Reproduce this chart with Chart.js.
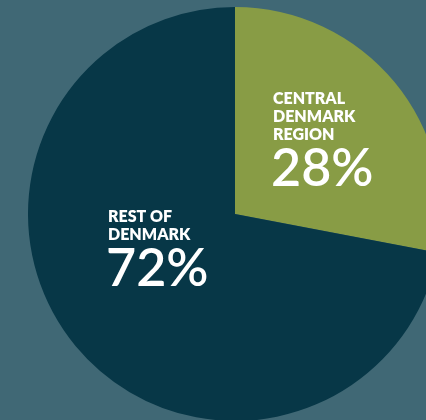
<!DOCTYPE html>
<html>
<head>
<meta charset="utf-8">
<script src="https://cdn.jsdelivr.net/npm/chart.js@4"></script>
<style>
  html, body { margin: 0; padding: 0; width: 426px; height: 420px; overflow: hidden; background: #406875; }
  #wrap { position: absolute; left: 28px; top: 7px; width: 414px; height: 414px; }
</style>
</head>
<body>
<div id="wrap"><canvas id="pie"></canvas></div>
<script>
// Share of total
const regions = ['CENTRAL DENMARK REGION', 'REST OF DENMARK'];
const shares = [28, 72];
const sliceColors = ['#889c45', '#073747'];

// Text label layout (offsets from the pie centre)
const labelLines = [['CENTRAL', 'DENMARK', 'REGION'], ['REST OF', 'DENMARK']];
const labelOffsets = [{ x: 38, y: -110 }, { x: -127, y: 8 }];

const sliceLabels = {
  id: 'sliceLabels',
  afterDraw(chart) {
    const ctx = chart.ctx;
    const arc = chart.getDatasetMeta(0).data[0];
    const cx = arc.x, cy = arc.y;
    ctx.save();
    ctx.fillStyle = '#ffffff';
    ctx.textAlign = 'left';
    ctx.textBaseline = 'alphabetic';
    labelLines.forEach((lines, i) => {
      const ox = cx + labelOffsets[i].x;
      let oy = cy + labelOffsets[i].y;
      ctx.font = '800 16px Lato';
      lines.forEach((line, j) => {
        ctx.fillText(line, ox, oy + j * 18);
      });
      ctx.font = '600 52px Lato';
      ctx.fillText(shares[i] + '%', ox - 2, oy + (lines.length - 1) * 18 + 46);
    });
    ctx.restore();
  }
};

new Chart(document.getElementById('pie'), {
  type: 'pie',
  data: {
    labels: regions,
    datasets: [{
      data: shares,
      backgroundColor: sliceColors,
      borderWidth: 0
    }]
  },
  options: {
    responsive: true,
    maintainAspectRatio: false,
    animation: false,
    layout: { padding: 0 },
    plugins: {
      legend: { display: false },
      tooltip: { enabled: false }
    }
  },
  plugins: [sliceLabels]
});
</script>
</body>
</html>
